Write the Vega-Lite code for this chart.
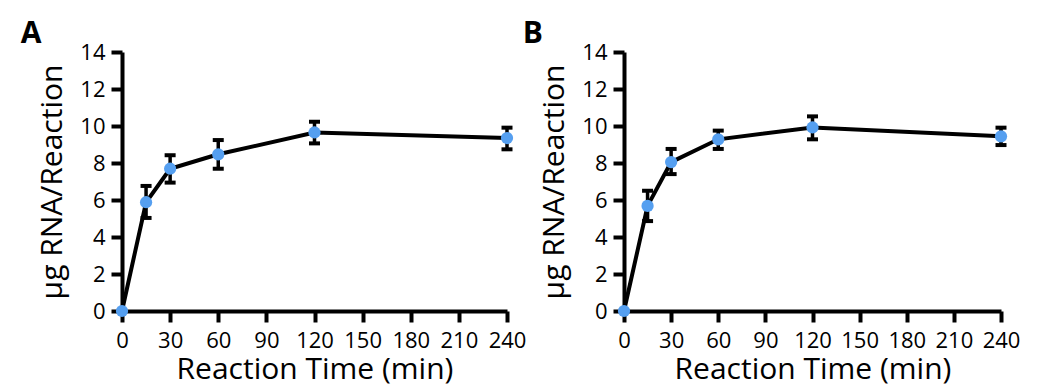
{
  "$schema": "https://vega.github.io/schema/vega-lite/v6.json",
  "padding": {"left": 20, "top": 19, "right": 0, "bottom": 0},
  "config": {
    "font": "Open Sans",
    "view": {"stroke": null},
    "axis": {"domainColor": "black", "domainWidth": 4, "tickColor": "black", "tickWidth": 4, "tickSize": 11, "labelFontSize": 22, "labelColor": "black", "labelOverlap": false, "labelFlush": false, "titleFontSize": 30, "titleFontWeight": "normal", "titleColor": "black", "grid": false, "labelFont": "Open Sans", "titleFont": "Open Sans"},
    "axisX": {"labelPadding": 8, "titlePadding": 3},
    "axisY": {"labelPadding": 6, "titlePadding": 12},
    "title": {"fontSize": 30, "fontWeight": "bold", "anchor": "start", "frame": "bounds", "color": "black", "font": "Open Sans", "offset": -8}
  },
  "datasets": {
    "A": [
      {"time": 0, "mean": 0, "lo": null, "hi": null},
      {"time": 15, "mean": 5.88, "lo": 5.03, "hi": 6.76},
      {"time": 30, "mean": 7.69, "lo": 6.94, "hi": 8.42},
      {"time": 60, "mean": 8.47, "lo": 7.69, "hi": 9.24},
      {"time": 120, "mean": 9.65, "lo": 9.06, "hi": 10.23},
      {"time": 240, "mean": 9.35, "lo": 8.74, "hi": 9.91}
    ],
    "B": [
      {"time": 0, "mean": 0, "lo": null, "hi": null},
      {"time": 15, "mean": 5.68, "lo": 4.86, "hi": 6.5},
      {"time": 30, "mean": 8.05, "lo": 7.4, "hi": 8.76},
      {"time": 60, "mean": 9.28, "lo": 8.76, "hi": 9.75},
      {"time": 120, "mean": 9.92, "lo": 9.28, "hi": 10.52},
      {"time": 240, "mean": 9.44, "lo": 8.97, "hi": 9.91}
    ]
  },
  "spacing": -4,
  "hconcat": [
    {
      "title": {"text": "A", "dx": -17},
      "width": 385,
      "height": 259,
      "data": {"name": "A"},
      "encoding": {
        "x": {"field": "time", "type": "quantitative", "scale": {"domain": [0, 240], "nice": false}, "title": "Reaction Time (min)", "axis": {"values": [0, 30, 60, 90, 120, 150, 180, 210, 240]}}
      },
      "layer": [
        {"mark": {"type": "line", "color": "black", "strokeWidth": 4}, "encoding": {"y": {"field": "mean", "type": "quantitative", "scale": {"domain": [0, 14], "nice": false}, "title": "μg RNA/Reaction", "axis": {"values": [0, 2, 4, 6, 8, 10, 12, 14]}}}},
        {"mark": {"type": "errorbar", "color": "black", "thickness": 3.5, "rule": {"opacity": 1}, "ticks": {"size": 11, "color": "black", "thickness": 4, "opacity": 1}}, "encoding": {"y": {"field": "lo", "type": "quantitative", "title": "μg RNA/Reaction", "axis": {"values": [0, 2, 4, 6, 8, 10, 12, 14]}}, "y2": {"field": "hi"}}},
        {"mark": {"type": "point", "filled": true, "opacity": 1, "size": 150, "color": "#559ff0"}, "encoding": {"y": {"field": "mean", "type": "quantitative", "title": "μg RNA/Reaction", "axis": {"values": [0, 2, 4, 6, 8, 10, 12, 14]}}}}
      ]
    },
    {
      "title": {"text": "B", "dx": -17},
      "width": 377,
      "height": 259,
      "data": {"name": "B"},
      "encoding": {
        "x": {"field": "time", "type": "quantitative", "scale": {"domain": [0, 240], "nice": false}, "title": "Reaction Time (min)", "axis": {"values": [0, 30, 60, 90, 120, 150, 180, 210, 240]}}
      },
      "layer": [
        {"mark": {"type": "line", "color": "black", "strokeWidth": 4}, "encoding": {"y": {"field": "mean", "type": "quantitative", "scale": {"domain": [0, 14], "nice": false}, "title": "μg RNA/Reaction", "axis": {"values": [0, 2, 4, 6, 8, 10, 12, 14]}}}},
        {"mark": {"type": "errorbar", "color": "black", "thickness": 3.5, "rule": {"opacity": 1}, "ticks": {"size": 11, "color": "black", "thickness": 4, "opacity": 1}}, "encoding": {"y": {"field": "lo", "type": "quantitative", "title": "μg RNA/Reaction", "axis": {"values": [0, 2, 4, 6, 8, 10, 12, 14]}}, "y2": {"field": "hi"}}},
        {"mark": {"type": "point", "filled": true, "opacity": 1, "size": 150, "color": "#559ff0"}, "encoding": {"y": {"field": "mean", "type": "quantitative", "title": "μg RNA/Reaction", "axis": {"values": [0, 2, 4, 6, 8, 10, 12, 14]}}}}
      ]
    }
  ]
}
